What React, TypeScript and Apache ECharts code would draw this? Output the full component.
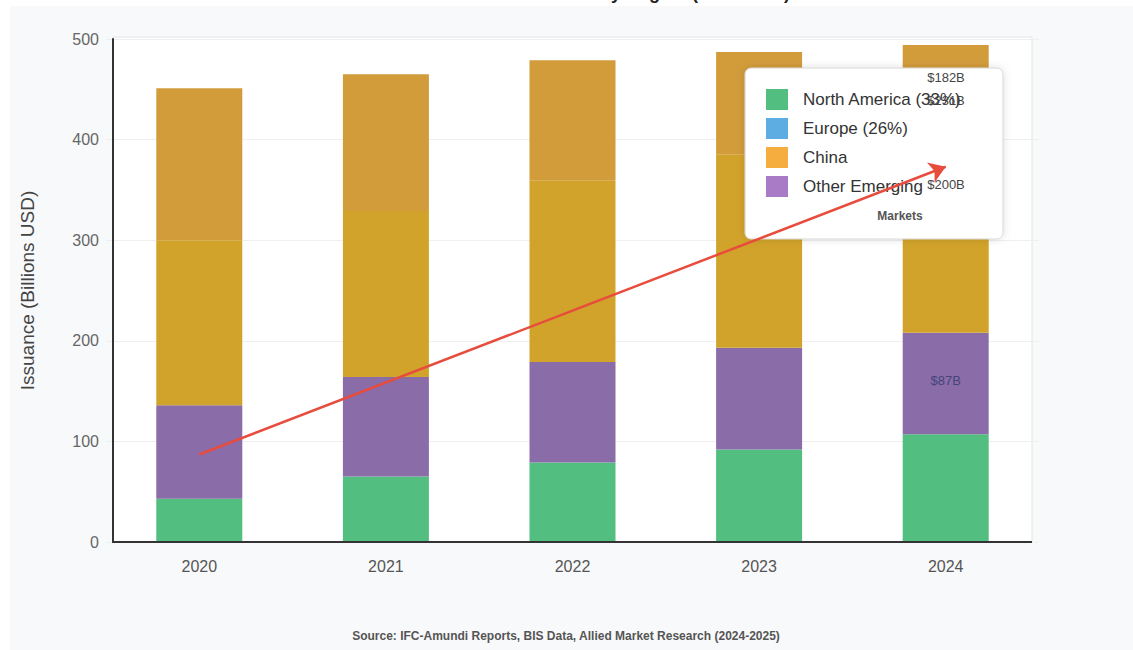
import React, { useEffect, useRef } from "react";
import * as echarts from "echarts";

const categories = ["2020", "2021", "2022", "2023", "2024"];
const northAmerica = [43, 65, 79, 92, 107];
const otherEmerging = [93, 99, 100, 101, 101];
const china = [164, 165, 180, 192, 202];
const europe = [151, 136, 120, 102, 84];
const yTicks = [0, 100, 200, 300, 400, 500];
const trendStart = 87;
const trendEnd = 373;
const legendNames = ["North America (33%)", "Europe (26%)", "China", "Other Emerging"];
const legendColors = ["#52be80", "#5dade2", "#f5ad3f", "#a97bc6"];
const floatingLabels = ["$182B", "$231B", "$200B"];
const purpleLabel2024 = "$87B";
const titleText = "Green Bond Issuance Growth by Region (2020-2024)";
const sourceText = "Source: IFC-Amundi Reports, BIS Data, Allied Market Research (2024-2025)";

const FONT = "'Liberation Sans', Arial, Helvetica, sans-serif";

export default function App() {
  const ref = useRef<HTMLDivElement>(null);
  useEffect(() => {
    if (!ref.current) return;
    const chart = echarts.init(ref.current, undefined, { renderer: "svg" });

    const legendEls: any[] = [
      {
        type: "rect",
        shape: { x: 745, y: 68, width: 258, height: 171, r: 6 },
        style: { fill: "#ffffff", stroke: "#d6d6d6", lineWidth: 1, shadowBlur: 8, shadowColor: "rgba(0,0,0,0.12)" },
        z: 4,
      },
    ];
    legendNames.forEach((n, i) => {
      const cy = 99.5 + i * 29;
      legendEls.push({
        type: "rect",
        shape: { x: 766, y: cy - 10.5, width: 22, height: 21 },
        style: { fill: legendColors[i] },
        z: 4,
      });
      legendEls.push({
        type: "text",
        x: 803,
        y: cy,
        style: { text: n, fill: "#333333", font: `17px ${FONT}`, textVerticalAlign: "middle", textAlign: "left" },
        z: 4,
      });
    });
    legendEls.push({
      type: "text",
      x: 900,
      y: 216,
      style: { text: "Markets", fill: "#555555", font: `bold 12px ${FONT}`, textVerticalAlign: "middle", textAlign: "center" },
      z: 4,
    });
    const labelYs = [77, 100, 184];
    floatingLabels.forEach((t, i) => {
      legendEls.push({
        type: "text",
        x: 946,
        y: labelYs[i],
        style: { text: t, fill: "#444444", font: `13px ${FONT}`, textVerticalAlign: "middle", textAlign: "center" },
        z: 12,
      });
    });

    const option: any = {
      animation: false,
      backgroundColor: "#ffffff",
      textStyle: { fontFamily: FONT },
      grid: { left: 106, right: 94, top: 39, bottom: 108, containLabel: false },
      xAxis: {
        type: "category",
        data: categories,
        axisLine: { show: false },
        axisTick: { show: false },
        axisLabel: { fontSize: 16, color: "#555555", margin: 16, fontFamily: FONT },
        splitLine: { show: false },
      },
      yAxis: {
        type: "value",
        min: yTicks[0],
        max: yTicks[yTicks.length - 1],
        interval: 100,
        offset: -7,
        axisLine: { show: true, lineStyle: { color: "#333333", width: 2 } },
        axisTick: { show: false },
        axisLabel: { fontSize: 16, color: "#666666", margin: 14, fontFamily: FONT },
        splitLine: { show: true, lineStyle: { color: "#efefef", width: 1 } },
        name: "Issuance (Billions USD)",
        nameLocation: "middle",
        nameGap: 76,
        nameTextStyle: { fontSize: 19, color: "#444444", fontFamily: FONT },
      },
      series: [
        {
          name: "North America",
          type: "bar",
          stack: "total",
          barWidth: 86,
          data: northAmerica,
          itemStyle: { color: "#52be80" },
        },
        {
          name: "Other Emerging Markets",
          type: "bar",
          stack: "total",
          barWidth: 86,
          data: otherEmerging.map((v, i) =>
            i === otherEmerging.length - 1
              ? {
                  value: v,
                  label: {
                    show: true,
                    position: "inside",
                    offset: [0, -3],
                    formatter: purpleLabel2024,
                    color: "#454578",
                    fontSize: 13,
                    fontFamily: FONT,
                  },
                }
              : v
          ),
          itemStyle: { color: "#8a6ca9" },
        },
        {
          name: "China",
          type: "bar",
          stack: "total",
          barWidth: 86,
          data: china,
          itemStyle: { color: "#d1a32a" },
        },
        {
          name: "Europe",
          type: "bar",
          stack: "total",
          barWidth: 86,
          data: europe,
          itemStyle: { color: "#d29c3b" },
          markLine: {
            silent: true,
            symbol: ["none", "arrow"],
            symbolSize: 16,
            z: 8,
            label: { show: false },
            lineStyle: { color: "#e74c3c", width: 2.5, type: "solid" },
            data: [[{ coord: [categories[0], trendStart] }, { coord: [categories[4], trendEnd] }]],
          },
        },
      ],
      graphic: [
        {
          type: "rect",
          shape: { x: 10, y: 6, width: 1123, height: 644 },
          style: { fill: "#f8f9fa" },
          z: -10,
          silent: true,
        },
        {
          type: "rect",
          shape: { x: 113, y: 37, width: 919, height: 505 },
          style: { fill: "#ffffff", stroke: "#e4e4e4", lineWidth: 1 },
          z: -9,
          silent: true,
        },
        {
          type: "line",
          shape: { x1: 112, y1: 542, x2: 1032, y2: 542 },
          style: { stroke: "#333333", lineWidth: 2 },
          z: 3,
        },
        {
          type: "text",
          x: 566,
          y: 2,
          style: { text: titleText, fill: "#222222", font: `bold 18px ${FONT}`, textAlign: "center", textVerticalAlign: "bottom" },
          z: -11,
        },
        {
          type: "text",
          x: 566,
          y: 636,
          style: { text: sourceText, fill: "#555555", font: `bold 12px ${FONT}`, textAlign: "center", textVerticalAlign: "middle" },
          z: 1,
        },
        ...legendEls,
      ],
    };
    chart.setOption(option);
    return () => chart.dispose();
  }, []);
  return <div ref={ref} style={{ position: "fixed", left: 0, top: 0, width: 1133, height: 650 }} />;
}
